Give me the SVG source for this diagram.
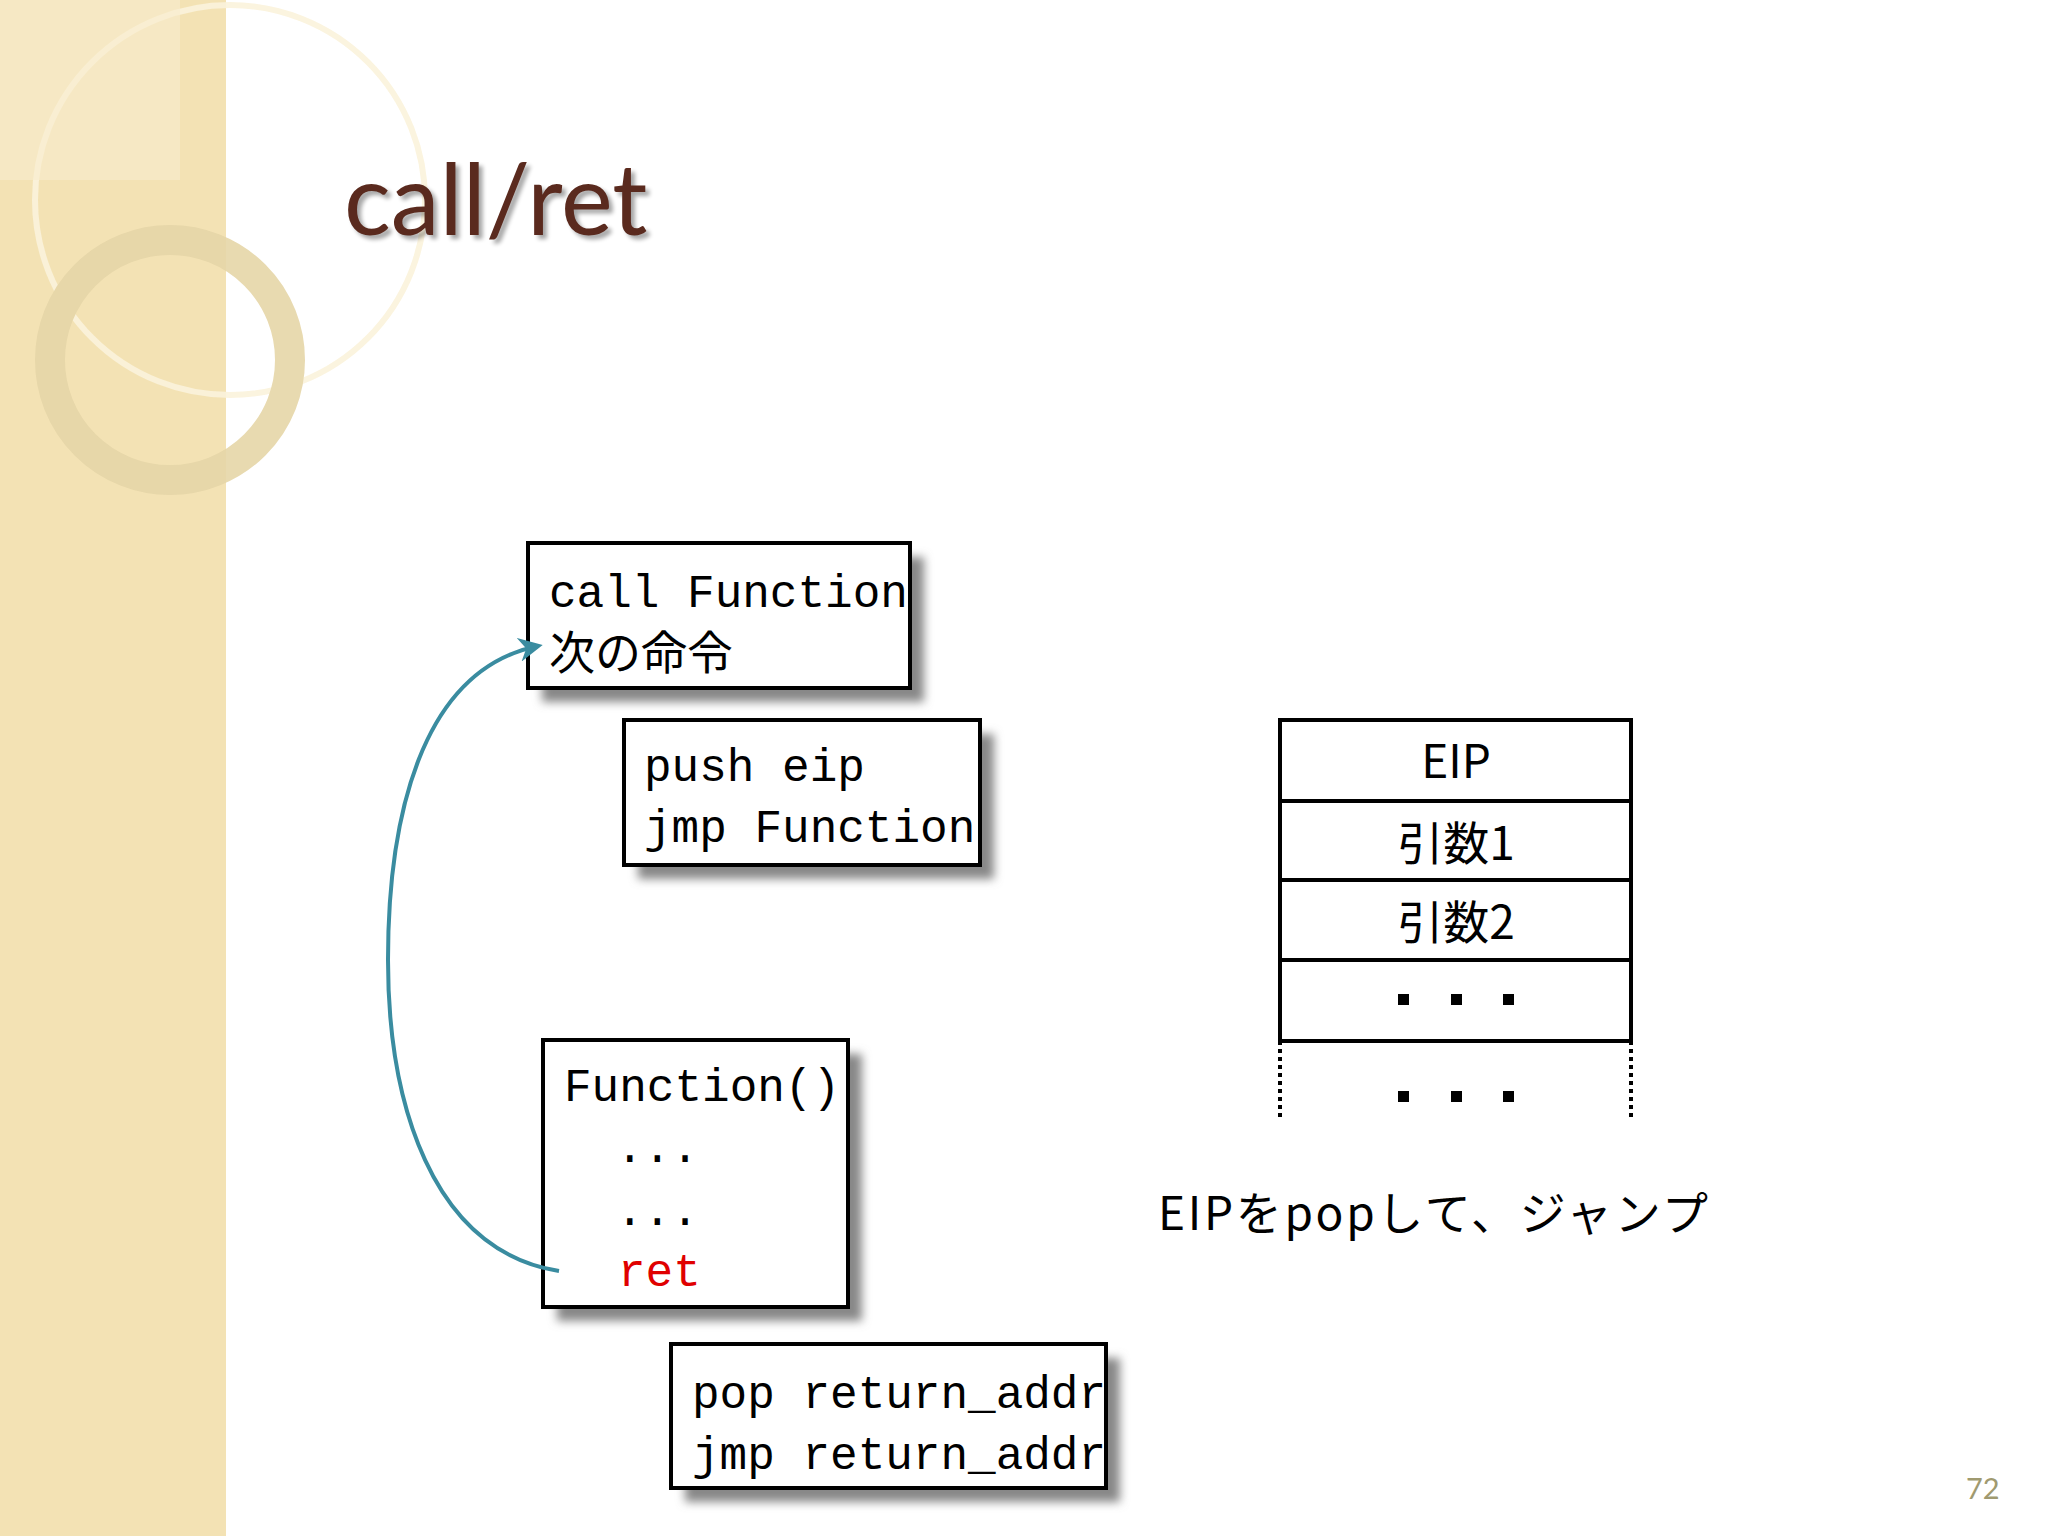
<svg xmlns="http://www.w3.org/2000/svg" width="2048" height="1536" viewBox="0 0 2048 1536">
<defs>
<filter id="sh" x="-20%" y="-20%" width="150%" height="150%"><feGaussianBlur stdDeviation="5"/></filter>
<filter id="tsh"><feGaussianBlur stdDeviation="2"/></filter>
<marker id="ah" viewBox="0 0 10 10" refX="8" refY="5" markerWidth="6" markerHeight="6" orient="auto"><path d="M0,0 L10,5 L0,10 L3,5 z" fill="#3a8ca0"/></marker>
</defs>
<style>
.code{font-family:"Liberation Mono","Noto Sans CJK JP",monospace;font-size:46px;fill:#000}
.box{fill:#fff;stroke:#000;stroke-width:4}
.shd{fill:#888;filter:url(#sh)}
.cell{fill:#fff;stroke:#000;stroke-width:4}
.st{font-family:"Noto Sans CJK JP","Liberation Sans",sans-serif;font-size:46px;fill:#000;text-anchor:middle}
</style>
<rect width="2048" height="1536" fill="#fff"/>
<rect width="226" height="1536" fill="#f3e2b4"/>
<g fill="none" stroke="#fbf3dc" stroke-width="6" opacity="0.9">
<circle cx="230" cy="200" r="195"/>
<circle cx="170" cy="360" r="120" stroke="#e6d6a8" stroke-width="30"/>
</g>
<rect x="0" y="0" width="180" height="180" fill="#f8edcf" opacity="0.6"/>
<g id="title">
<text x="348" y="239" font-family="Lato,'Liberation Sans',sans-serif" font-size="98" fill="#000" opacity="0.35" filter="url(#tsh)">call/ret</text>
<text x="344" y="235" font-family="Lato,'Liberation Sans',sans-serif" font-size="98" fill="#5a2a1e">call/ret</text>
</g>
<g id="box1">
<rect class="shd" x="542" y="557" width="382" height="145"/>
<rect class="box" x="528" y="543" width="382" height="145"/>
<text class="code" x="549" y="607">call Function</text>
<text class="code" x="549" y="669">次の命令</text>
</g>
<g id="box2">
<rect class="shd" x="638" y="734" width="356" height="145"/>
<rect class="box" x="624" y="720" width="356" height="145"/>
<text class="code" x="644" y="781">push eip</text>
<text class="code" x="644" y="842">jmp Function</text>
</g>
<g id="box3">
<rect class="shd" x="557" y="1054" width="305" height="267"/>
<rect class="box" x="543" y="1040" width="305" height="267"/>
<text class="code" x="564" y="1101">Function()</text>
<text class="code" x="616" y="1162">...</text>
<text class="code" x="616" y="1225">...</text>
<text class="code" x="618" y="1286" fill="#e00000" style="fill:#e00000">ret</text>
</g>
<g id="box4">
<rect class="shd" x="685" y="1358" width="435" height="144"/>
<rect class="box" x="671" y="1344" width="435" height="144"/>
<text class="code" x="692" y="1408">pop return_addr</text>
<text class="code" x="692" y="1469">jmp return_addr</text>
</g>
<g id="connectors">
<path d="M559,1271 C430,1250 388,1100 388,960 C388,820 420,670 538,646" fill="none" stroke="#3a8ca0" stroke-width="4" marker-end="url(#ah)"/>
</g>
<g id="stack">
<rect class="cell" x="1280" y="720" width="351" height="81"/>
<rect class="cell" x="1280" y="801" width="351" height="79"/>
<rect class="cell" x="1280" y="880" width="351" height="80"/>
<rect class="cell" x="1280" y="960" width="351" height="81"/>
<line x1="1280" y1="1041" x2="1280" y2="1119" stroke="#000" stroke-width="4" stroke-dasharray="4,4"/>
<line x1="1631" y1="1041" x2="1631" y2="1119" stroke="#000" stroke-width="4" stroke-dasharray="4,4"/>
<text class="st" x="1456" y="778">EIP</text>
<text class="st" x="1456" y="860">引数1</text>
<text class="st" x="1456" y="939">引数2</text>
<g fill="#000">
<rect x="1398" y="994" width="11" height="11"/><rect x="1451" y="994" width="11" height="11"/><rect x="1503" y="994" width="11" height="11"/>
<rect x="1398" y="1091" width="11" height="11"/><rect x="1451" y="1091" width="11" height="11"/><rect x="1503" y="1091" width="11" height="11"/>
</g>
</g>
<text x="1158" y="1230" font-family="'Noto Sans CJK JP',sans-serif" font-size="46" fill="#000" textLength="550">EIPをpopして、ジャンプ</text>
<text x="1966" y="1499" font-family="Lato,'Liberation Sans',sans-serif" font-size="29" fill="#a09a70">72</text>
</svg>
